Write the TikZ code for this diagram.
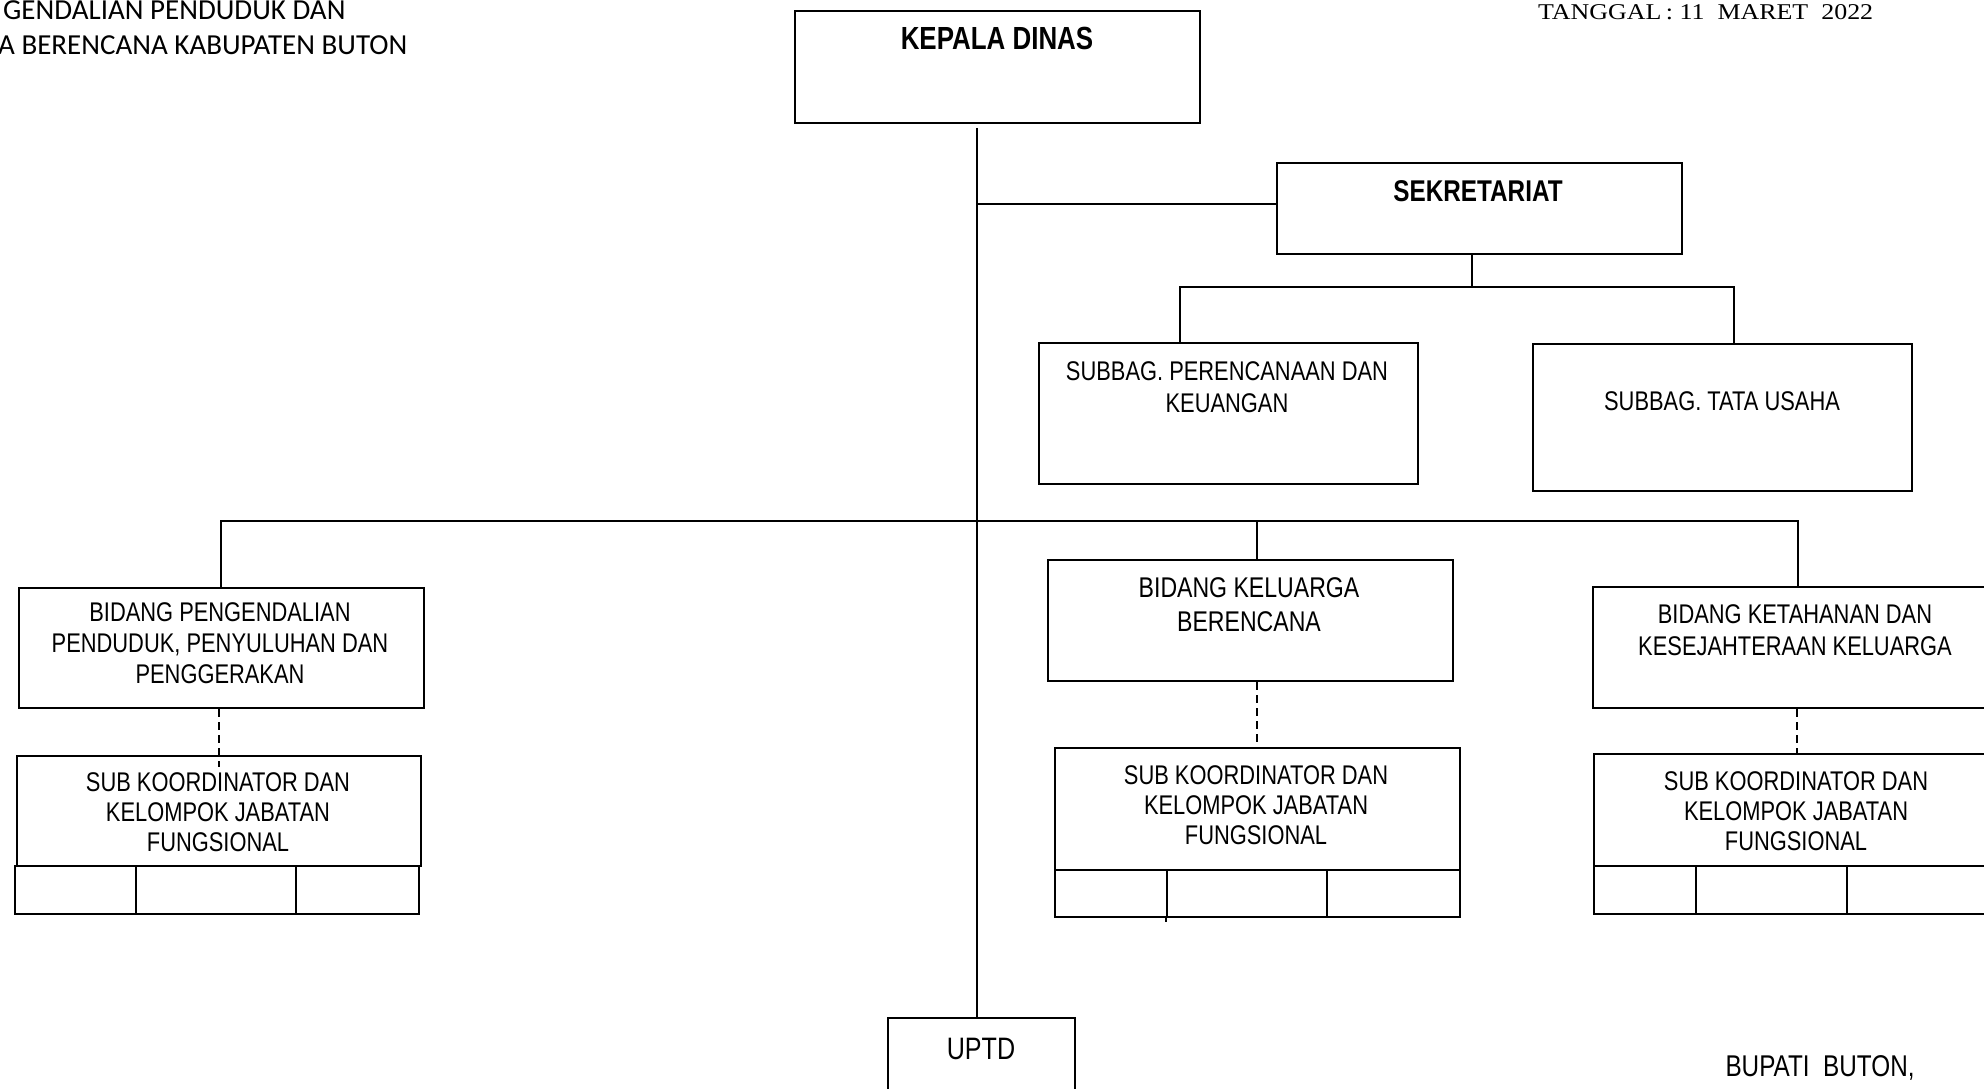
\documentclass[tikz,border=0pt]{standalone}
\usepackage{fontspec}
\setmainfont{Liberation Sans}[FakeStretch=0.81]
\newfontfamily\calfont{Carlito}
\newfontfamily\datefont{Liberation Serif}
\begin{document}
\begin{tikzpicture}[x=1pt,y=-1pt,
  box/.style={draw, line width=2pt, rectangle, inner sep=0pt, anchor=north west},
  conn/.style={line width=2pt},
  dashconn/.style={line width=2pt, dash pattern=on 8pt off 5pt},
  txt/.style={inner sep=0pt, align=center, font=\fontsize{27}{32}\selectfont},
  subtxt/.style={inner sep=0pt, align=center, font=\fontsize{27}{30}\selectfont},
  ]
\useasboundingbox (0,0) rectangle (1984,1089);
\clip (0,0) rectangle (1984,1089);

% boxes
\node[box, minimum width=405pt, minimum height=112pt] (kd) at (794,10) {};
\node[box, minimum width=405pt, minimum height=91pt] (sek) at (1276,162) {};
\node[box, minimum width=379pt, minimum height=141pt] (spk) at (1038,342) {};
\node[box, minimum width=379pt, minimum height=147pt] (stu) at (1532,343) {};
\node[box, minimum width=405pt, minimum height=120pt] (bpp) at (18,587) {};
\node[box, minimum width=405pt, minimum height=121pt] (bkb) at (1047,559) {};
\node[box, minimum width=420pt, minimum height=121pt] (bkt) at (1592,586) {};
\node[box, minimum width=404pt, minimum height=110pt] (skL) at (16,755) {};
\node[box, minimum width=405pt, minimum height=122pt] (skM) at (1054,747) {};
\node[box, minimum width=420pt, minimum height=112pt] (skR) at (1593,753) {};
\node[box, minimum width=187pt, minimum height=100pt] (uptd) at (887,1017) {};

% cells under sub koordinator boxes
\node[box, minimum width=121pt, minimum height=48pt] (cL1) at (14,865) {};
\node[box, minimum width=160pt, minimum height=48pt] (cL2) at (135,865) {};
\node[box, minimum width=123pt, minimum height=48pt] (cL3) at (295,865) {};
\node[box, minimum width=112pt, minimum height=47pt] (cM1) at (1054,869) {};
\node[box, minimum width=160pt, minimum height=47pt] (cM2) at (1166,869) {};
\node[box, minimum width=133pt, minimum height=47pt] (cM3) at (1326,869) {};
\node[box, minimum width=102pt, minimum height=48pt] (cR1) at (1593,865) {};
\node[box, minimum width=151pt, minimum height=48pt] (cR2) at (1695,865) {};
\node[box, minimum width=160pt, minimum height=48pt] (cR3) at (1846,865) {};
\draw[conn] (cM2.south west) -- ++(0,4);

% texts
\node[inner sep=0pt, font=\fontsize{32}{36}\selectfont\bfseries] (kdt) at (997,38) {KEPALA DINAS};
\node[inner sep=0pt, font=\fontsize{30}{34}\selectfont\bfseries] (sekt) at (1478,191) {SEKRETARIAT};
\node[txt] (spkt) at (1227,387) {SUBBAG. PERENCANAAN DAN\\KEUANGAN};
\node[txt] (stut) at (1722,401) {SUBBAG. TATA USAHA};
\node[txt, font=\fontsize{27}{31}\selectfont] (bppt) at (220,643) {BIDANG PENGENDALIAN\\PENDUDUK, PENYULUHAN DAN\\PENGGERAKAN};
\node[txt, font=\fontsize{28.5}{34}\selectfont] (bkbt) at (1249,605) {BIDANG KELUARGA\\BERENCANA};
\node[txt] (bktt) at (1795,630) {BIDANG KETAHANAN DAN\\KESEJAHTERAAN KELUARGA};
\node[subtxt] (skLt) at (218,812) {SUB KOORDINATOR DAN\\KELOMPOK JABATAN\\FUNGSIONAL};
\node[subtxt] (skMt) at (1256,805) {SUB KOORDINATOR DAN\\KELOMPOK JABATAN\\FUNGSIONAL};
\node[subtxt] (skRt) at (1796,811) {SUB KOORDINATOR DAN\\KELOMPOK JABATAN\\FUNGSIONAL};
\node[inner sep=0pt, font=\fontsize{31}{35}\selectfont] (uptdt) at (981,1049) {UPTD};
\node[inner sep=0pt, font=\fontsize{30}{34}\selectfont] (bup) at (1820,1068) {BUPATI~~BUTON,};
\node[inner sep=0pt, anchor=west] (tgl) at (1538,12) {\resizebox{335pt}{15pt}{\datefont TANGGAL\,: 11~~MARET~~2022}};
\node[inner sep=0pt, anchor=west, font=\calfont\fontsize{29}{34}\selectfont] (hd1) at (3,10) {GENDALIAN PENDUDUK DAN};
\node[inner sep=0pt, anchor=west, font=\calfont\fontsize{29}{34}\selectfont] (hd2) at (-2,45) {A BERENCANA KABUPATEN BUTON};

% connectors
\coordinate (tt) at (977,128);
\draw[conn] (tt) -- (tt |- uptd.north);
\coordinate (j1) at (977,204);
\draw[conn] (j1) -- (sek.west |- j1);
\coordinate (sj) at (1472,287);
\coordinate (sl) at (1180,287);
\coordinate (sr) at (1734,287);
\draw[conn] (sj |- sek.south) -- (sj);
\draw[conn] (sl |- spk.north) -- (sl) -- (sr) -- (sr |- stu.north);
\coordinate (hl) at (221,521);
\coordinate (hr) at (1798,521);
\coordinate (hm) at (1257,521);
\draw[conn] (hl |- bpp.north) -- (hl) -- (hr) -- (hr |- bkt.north);
\draw[conn] (hm) -- (hm |- bkb.north);
\coordinate (dL) at (219,767);
\coordinate (dM) at (1257,747);
\coordinate (dR) at (1797,753);
\draw[dashconn] (dL |- bpp.south) -- (dL);
\draw[dashconn] (dM |- bkb.south) -- (dM);
\draw[dashconn] (dR |- bkt.south) -- (dR);
\end{tikzpicture}
\end{document}
